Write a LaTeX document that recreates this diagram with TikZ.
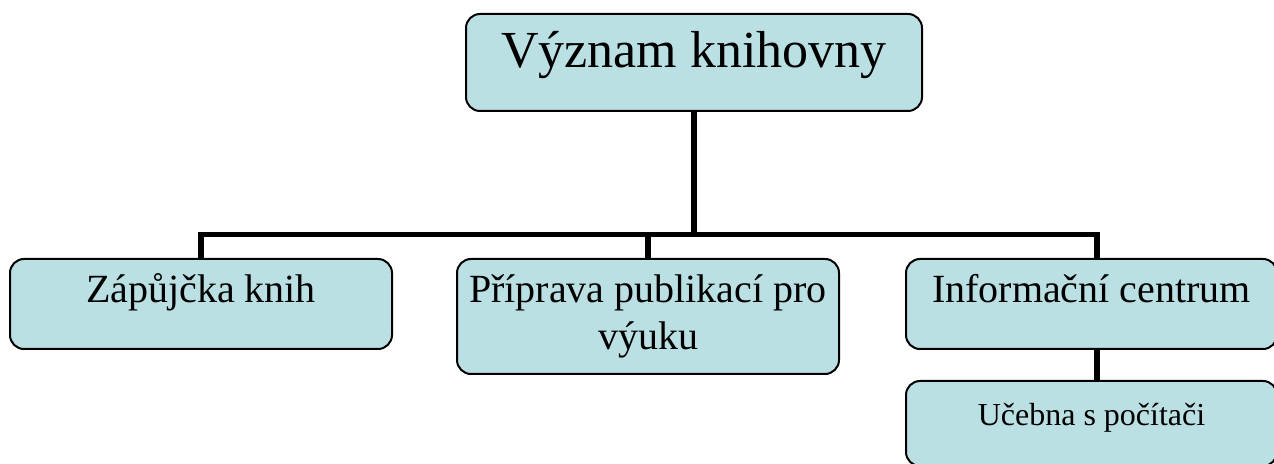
\documentclass[tikz,border=0pt]{standalone}
\usepackage{fontspec}
\setmainfont{Liberation Serif}
\usetikzlibrary{positioning}
\definecolor{boxfill}{RGB}{187,224,227}

\begin{document}
\begin{tikzpicture}[
  x=0.5pt, y=-0.5pt,
  box/.style={draw, line width=1pt, rounded corners=7pt, fill=boxfill, inner sep=0pt, align=center},
  big/.style={font=\fontsize{20}{23.5}\selectfont, minimum width=191pt},
  link/.style={line width=2.75pt}
]
  \useasboundingbox (0,0) rectangle (1274,464);

  % Root
  \node[box, anchor=north, minimum width=228pt, text height=27pt, text depth=21.5pt,
        font=\fontsize{26}{30}\selectfont] (root) at (694,13) {Význam knihovny};

  % Second level
  \node[box, big, anchor=north, text height=22pt, text depth=23pt] (zap) at (201,258) {Zápůjčka knih};
  \node[box, big, right=31.5pt of zap.north east, anchor=north west, minimum height=57.5pt] (pri)
        {Příprava publikací pro\\výuku};
  \node[box, big, right=32.5pt of pri.north east, anchor=north west, minimum width=185.5pt,
        text height=22pt, text depth=23pt] (inf) {Informační centrum};

  % Third level
  \node[box, below=15pt of inf, minimum width=185.5pt, text height=22.5pt, text depth=20pt,
        font=\fontsize{16}{19}\selectfont] (ucb) {Učebna s počítači};

  % Connectors
  \coordinate (bar) at (694,234.5);
  \draw[link] (root) -- (bar);
  \draw[link] (zap.north) |- (bar) -| ([xshift=2.75pt]inf.north);
  \draw[link] (pri.north) -- (pri.north |- bar);
  \draw[link] ([xshift=2.75pt]inf.south) -- ([xshift=2.75pt]ucb.north);
\end{tikzpicture}
\end{document}
